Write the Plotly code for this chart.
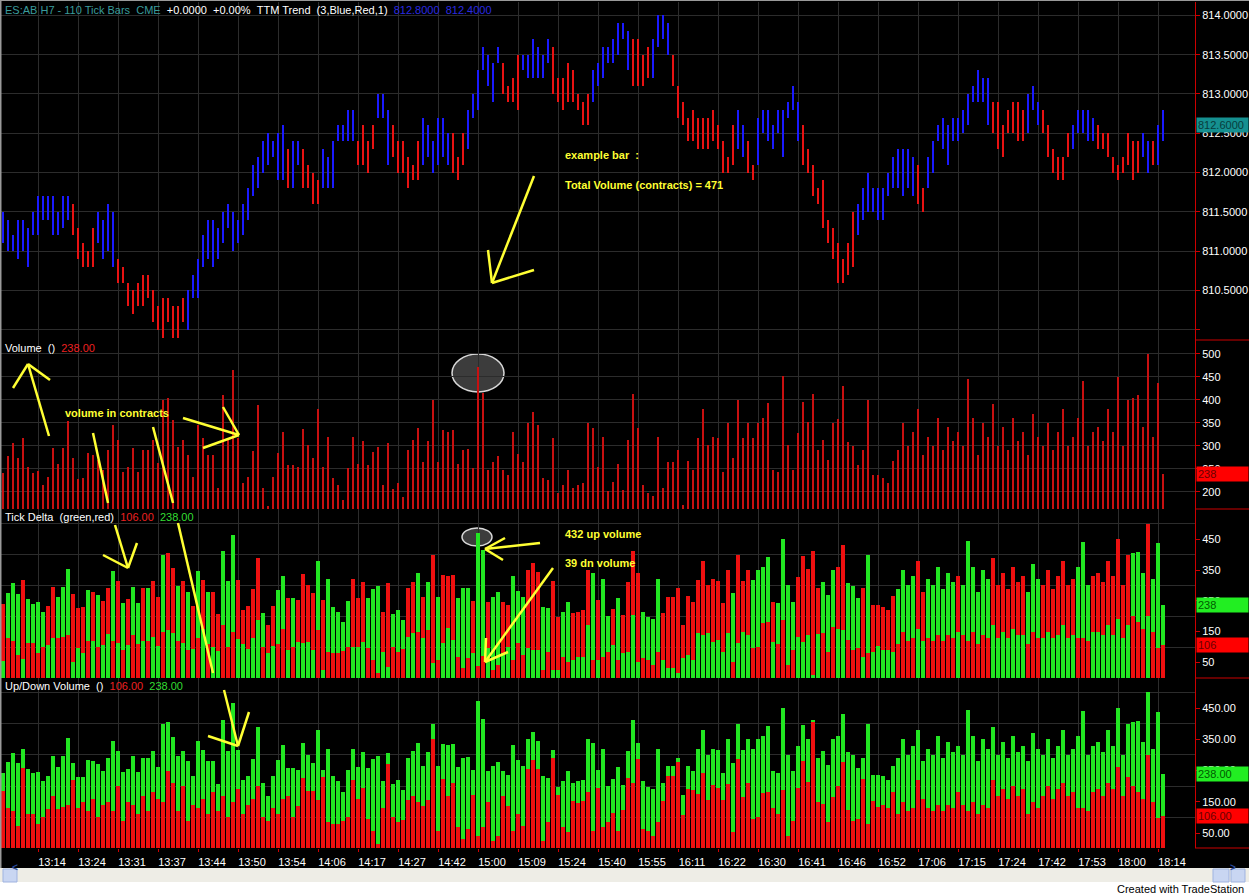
import plotly.graph_objects as go

# ---------------- data ----------------
time_labels = ["13:14", "13:24", "13:31", "13:37", "13:44", "13:50", "13:54", "14:06",
               "14:17", "14:27", "14:42", "15:00", "15:09", "15:24", "15:40", "15:55",
               "16:11", "16:22", "16:30", "16:41", "16:46", "16:52", "17:06", "17:15",
               "17:24", "17:42", "17:53", "18:00", "18:14"]

price_high = [
    811.5, 811.4, 811.2, 811.4, 811.4, 811.3, 811.5, 811.7, 811.7, 811.7,
    811.7, 811.5, 811.7, 811.7, 811.6, 811.3, 811.1, 811.0, 811.3, 811.5,
    811.4, 811.6, 811.5, 810.9, 810.8, 810.6, 810.5, 810.6, 810.7, 810.7,
    810.5, 810.3, 810.4, 810.4, 810.3, 810.3, 810.4, 810.5, 810.7, 810.9,
    811.2, 811.4, 811.4, 811.3, 811.5, 811.6, 811.5, 811.4, 811.6, 811.8,
    812.1, 812.2, 812.4, 812.5, 812.4, 812.5, 812.6, 812.3, 812.4, 812.4,
    812.3, 812.1, 812.0, 811.9, 812.3, 812.2, 812.4, 812.6, 812.6, 812.8,
    812.8, 812.4, 812.6, 812.4, 812.6, 813.0, 813.0, 812.8, 812.6, 812.4,
    812.4, 812.2, 812.1, 812.4, 812.7, 812.6, 812.4, 812.7, 812.7, 812.5,
    812.5, 812.2, 812.5, 812.8, 813.0, 813.3, 813.6, 813.5, 813.4, 813.6,
    813.4, 813.1, 813.2, 813.5, 813.5, 813.5, 813.7, 813.6, 813.5, 813.7,
    813.6, 813.2, 813.2, 813.4, 813.3, 813.0, 812.9, 813.0, 813.3, 813.4,
    813.6, 813.6, 813.7, 813.9, 813.9, 813.8, 813.7, 813.7, 813.5, 813.6,
    813.7, 814.0, 814.0, 813.9, 813.5, 813.1, 812.9, 812.7, 812.8, 812.7,
    812.7, 812.7, 812.8, 812.6, 812.4, 812.2, 812.6, 812.8, 812.6, 812.4,
    812.1, 812.7, 812.8, 812.8, 812.6, 812.8, 812.8, 812.9, 813.1, 812.9,
    812.6, 812.3, 812.1, 811.8, 811.9, 811.4, 811.3, 811.1, 810.9, 811.1,
    811.5, 811.6, 811.8, 812.0, 811.8, 811.8, 811.8, 812.0, 812.2, 812.3,
    812.3, 812.3, 812.2, 812.1, 811.8, 812.2, 812.4, 812.6, 812.7, 812.6,
    812.7, 812.7, 812.8, 813.0, 813.1, 813.3, 813.2, 813.2, 812.9, 812.9,
    812.6, 812.8, 812.9, 812.9, 812.8, 813.0, 813.1, 812.9, 812.8, 812.6,
    812.3, 812.2, 812.2, 812.5, 812.6, 812.8, 812.8, 812.8, 812.7, 812.6,
    812.5, 812.5, 812.2, 812.1, 812.2, 812.5, 812.4, 812.4, 812.5, 812.4,
    812.4, 812.6, 812.8]

price_low = [
    811.1, 811.0, 811.0, 810.9, 811.0, 810.8, 811.2, 811.2, 811.4, 811.4,
    811.2, 811.2, 811.3, 811.4, 811.2, 810.9, 810.8, 810.8, 810.8, 811.1,
    810.9, 811.0, 810.8, 810.6, 810.6, 810.3, 810.2, 810.3, 810.3, 810.4,
    810.1, 810.0, 809.9, 810.1, 809.9, 809.9, 810.1, 810.0, 810.4, 810.4,
    810.8, 810.9, 810.8, 810.9, 811.1, 811.3, 811.0, 811.1, 811.2, 811.4,
    811.7, 811.8, 812.0, 812.1, 812.2, 811.9, 811.9, 811.8, 811.8, 812.1,
    811.8, 811.8, 811.6, 811.6, 811.8, 811.8, 811.8, 812.4, 812.4, 812.4,
    812.4, 812.1, 812.1, 812.0, 812.3, 812.7, 812.7, 812.1, 812.2, 812.0,
    812.0, 811.8, 811.9, 811.9, 812.1, 812.2, 812.0, 812.1, 812.2, 812.1,
    812.0, 811.9, 812.1, 812.3, 812.7, 812.8, 813.3, 813.1, 812.9, 813.4,
    813.0, 812.9, 812.9, 812.8, 813.3, 813.2, 813.2, 813.2, 813.2, 813.4,
    813.0, 812.9, 812.8, 812.9, 812.9, 812.8, 812.6, 812.6, 812.9, 813.1,
    813.2, 813.4, 813.4, 813.5, 813.7, 813.3, 813.1, 813.1, 813.1, 813.2,
    813.2, 813.6, 813.7, 813.5, 813.1, 812.7, 812.6, 812.4, 812.4, 812.3,
    812.3, 812.3, 812.4, 812.3, 812.0, 812.0, 812.1, 812.3, 812.2, 812.0,
    811.9, 812.1, 812.5, 812.4, 812.3, 812.5, 812.2, 812.7, 812.8, 812.4,
    812.1, 812.0, 811.7, 811.6, 811.3, 811.1, 810.9, 810.6, 810.6, 810.7,
    810.8, 811.2, 811.4, 811.5, 811.5, 811.4, 811.4, 811.7, 811.8, 811.8,
    811.7, 811.8, 811.7, 811.6, 811.5, 811.8, 812.0, 812.4, 812.3, 812.1,
    812.4, 812.4, 812.5, 812.6, 812.9, 812.9, 812.9, 812.6, 812.5, 812.3,
    812.2, 812.5, 812.5, 812.4, 812.4, 812.5, 812.8, 812.6, 812.5, 812.2,
    812.0, 811.9, 811.9, 812.2, 812.3, 812.5, 812.5, 812.4, 812.4, 812.3,
    812.3, 812.2, 812.0, 811.9, 812.0, 812.1, 811.9, 812.0, 812.2, 812.0,
    812.1, 812.1, 812.4]

# TTM trend colour of each bar: B = blue (up trend), R = red (down trend)
trend = "".join([
    "BBBBBBBBBBBBBB", "RRRRR", "BBBB", "RRRRRRRRRRRRRR", "BBBBBBBBBBBBBBBBBBBB",
    "R", "BB", "RRRR", "BBBBBBB", "RRRR", "BBB", "RRRRRR", "BBBBBB", "RRR",
    "BBBBBBB", "RRRR", "BBBBBB", "RRRRRRRR", "BBBBBBBB", "RRRR", "BBBB",
    "RRRRRRRRRRRRR", "BB", "RR", "BBBBBBBBB", "RRRRRRRRRRR", "BBBBBBBBBBBB",
    "RR", "BBBBBBBBBBBBB", "RRRRRRR", "BBB", "RRRRRR", "BBBBB", "RRRRRRRRR",
    "BB", "R", "BB"])

volume = [
    241, 277, 307, 273, 318, 255, 241, 246, 215, 233,
    295, 261, 295, 353, 273, 228, 230, 284, 280, 270,
    248, 291, 346, 313, 244, 255, 295, 244, 291, 291,
    313, 262, 400, 404, 357, 298, 313, 280, 233, 346,
    317, 280, 280, 208, 411, 313, 465, 317, 219, 233,
    288, 389, 209, 170, 233, 285, 331, 259, 259,
    253, 337, 301, 274, 381, 253, 320, 231, 215, 182,
    251, 320, 260, 310, 258, 287, 298, 215, 307, 207,
    220, 188, 291, 312, 339, 264, 310, 399, 264, 334,
    331, 334, 260, 291, 293, 251, 471, 414, 247, 264,
    278, 247, 236, 331, 283, 264, 350, 374, 345, 231,
    226, 316, 198, 215, 247, 209, 215, 220, 350, 339,
    253, 320, 201, 222, 260, 204, 312, 413, 339, 215,
    198, 190, 320, 209, 264, 264, 291, 171, 266, 247,
    318, 381, 301, 320, 316, 242, 350, 274, 399, 316,
    350, 318, 350, 361, 394, 247, 242, 451, 301, 247,
    328, 396, 352, 413, 291, 312, 269, 350, 359, 431,
    309, 299, 258, 291, 399, 236, 236, 231, 220, 266,
    290, 350, 300, 330, 380, 280, 320, 300, 360, 290, 340, 310,
    330, 300, 445, 360, 280, 350, 320, 390, 300, 340, 290, 360, 310, 330, 280, 370, 320, 300, 350, 290,
    330, 380, 300, 320, 360, 440, 300, 330, 340, 310, 380, 330, 450, 300, 400, 405, 410, 340, 500, 320, 437, 238]

down_volume = [
    185, 130, 119, 74, 258, 112, 112, 79, 100, 127,
    167, 128, 134, 139, 221, 130, 150, 120, 160, 100,
    140, 150, 120, 200, 90, 150, 140, 110, 170, 120,
    180, 160, 150, 250, 210, 120, 200, 90, 140, 130,
    160, 110, 180, 120, 170, 100, 150, 190, 110, 140,
    160, 200, 100, 90, 130, 110, 160, 170, 100,
    136, 225, 184, 184, 155, 228, 85, 79, 79, 88,
    101, 219, 159, 193, 96, 58, 14, 130, 271, 101,
    85, 92, 157, 168, 150, 136, 155, 352, 58, 222,
    170, 211, 69, 31, 63, 172, 39, 70, 150, 25,
    41, 168, 136, 58, 112, 74, 254, 284, 255, 25,
    85, 291, 173, 69, 52, 151, 146, 151, 180, 58,
    195, 69, 85, 115, 58, 125, 227, 209, 287, 63,
    58, 41, 85, 151, 233, 233, 277, 108, 192, 189,
    174, 242, 157, 203, 193, 157, 206, 52, 287, 166,
    211, 96, 101, 179, 182, 130, 110, 188, 41, 90,
    194, 279, 213, 404, 150, 144, 85, 166, 199, 276,
    123, 90, 96, 222, 79, 151, 133, 141, 130, 181,
    110, 150, 120, 130, 220, 160, 130, 120, 140, 120, 140, 130,
    180, 140, 120, 150, 110, 140, 130, 220, 170, 190, 160, 200, 170, 190, 110, 150, 130, 170, 200, 160,
    190, 210, 170, 180, 130, 130, 120, 180, 190, 170, 210, 190, 260, 170, 230, 200, 180, 160, 300, 150, 98, 106]

last_close = 812.6

N = len(price_high)
assert len(price_low) == N and len(trend) == N and len(volume) == N and len(down_volume) == N
idx = list(range(N))
up_volume = [v - d for v, d in zip(volume, down_volume)]

# ---------------- style ----------------
BLUE = "#1a1aff"
PRED = "#e81212"
GREEN = "#22e622"
RED = "#ee1010"
VRED = "#c81010"
GRID = "#2c2c2c"
AXR = "#cc0000"
YEL = "#ffff33"
FONT = "Arial, Liberation Sans, sans-serif"

W, H = 1249, 896
ML, MR, MT, MB = 0, 54, 2, 48
PW, PH = W - ML - MR, H - MT - MB


def fx(p):
    return (p - ML) / PW


def fy(p):
    return (H - MB - p) / PH


fig = go.Figure()

# ---------------- price bars ----------------
for code, col in (("B", BLUE), ("R", PRED)):
    sel = [i for i in idx if trend[i] == code]
    fig.add_trace(go.Bar(
        x=sel, y=[round(price_high[i] - price_low[i], 2) for i in sel],
        base=[price_low[i] for i in sel], width=0.42,
        marker=dict(color=col, line=dict(width=0)),
        xaxis="x", yaxis="y", showlegend=False, hoverinfo="skip"))

# ---------------- volume lines ----------------
fig.add_trace(go.Bar(x=idx, y=volume, width=0.22,
                     marker=dict(color=VRED, line=dict(width=0)),
                     xaxis="x2", yaxis="y2", showlegend=False))

# ---------------- tick delta ----------------
tall_col = [GREEN if u >= d else RED for u, d in zip(up_volume, down_volume)]
short_val = [min(u, d) for u, d in zip(up_volume, down_volume)]
short_col = [RED if u >= d else GREEN for u, d in zip(up_volume, down_volume)]
fig.add_trace(go.Bar(x=idx, y=volume, width=0.8,
                     marker=dict(color=tall_col, line=dict(width=0)),
                     xaxis="x3", yaxis="y3", showlegend=False))
fig.add_trace(go.Bar(x=idx, y=short_val, width=0.8,
                     marker=dict(color=short_col, line=dict(width=0)),
                     xaxis="x3", yaxis="y3", showlegend=False))

# ---------------- up / down volume ----------------
fig.add_trace(go.Bar(x=idx, y=down_volume, width=0.8,
                     marker=dict(color=RED, line=dict(width=0)),
                     xaxis="x4", yaxis="y4", showlegend=False))
fig.add_trace(go.Bar(x=idx, y=up_volume, base=down_volume, width=0.8,
                     marker=dict(color=GREEN, line=dict(width=0)),
                     xaxis="x4", yaxis="y4", showlegend=False))

# ---------------- axes ----------------
tick_pos = list(range(7, N, 8))
xr = [-0.6, 238.4]
xbase = dict(range=xr, showgrid=True, gridcolor=GRID, gridwidth=1, zeroline=False,
             showline=False, tickvals=tick_pos, ticktext=time_labels, fixedrange=True)
yfont = dict(color="white", size=11, family=FONT)
ybase = dict(side="right", showline=True, linecolor=AXR, linewidth=1, ticks="outside",
             ticklen=4, tickcolor=AXR, tickfont=yfont, zeroline=False, gridcolor=GRID,
             gridwidth=1, automargin=False, fixedrange=True)

price_ticks = [810.0, 810.5, 811.0, 811.5, 812.0, 812.5, 813.0, 813.5, 814.0]
vol_ticks = [200, 250, 300, 350, 400, 450, 500]
delta_ticks = [50, 150, 250, 350, 450]
delta_grid = [100, 200, 300, 400, 500]

fig.update_layout(
    width=W, height=H, margin=dict(l=ML, r=MR, t=MT, b=MB),
    paper_bgcolor="black", plot_bgcolor="black", barmode="overlay", bargap=0,
    font=dict(family=FONT, size=11, color="white"), showlegend=False,
    xaxis=dict(**xbase, anchor="y", showticklabels=False, ticks=""),
    xaxis2=dict(**xbase, anchor="y2", matches="x", showticklabels=False, ticks=""),
    xaxis3=dict(**xbase, anchor="y3", matches="x", showticklabels=False, ticks=""),
    xaxis4=dict(**xbase, anchor="y4", matches="x", showticklabels=True, ticks="outside",
                ticklen=3, tickcolor=AXR, ticklabelshift=14, ticklabelstandoff=1,
                automargin=False, tickfont=dict(color="white", size=11, family=FONT)),
    yaxis=dict(**ybase, anchor="x", domain=[fy(340), 1], range=[809.87, 814.17],
               tickvals=price_ticks,
               ticktext=["" if v == 810.0 else "%.4f" % v for v in price_ticks]),
    yaxis2=dict(**ybase, anchor="x2", domain=[fy(509), fy(340)], range=[162.6, 530],
                tickvals=vol_ticks, ticktext=[str(v) for v in vol_ticks]),
    yaxis3=dict(**ybase, anchor="x3", domain=[fy(678), fy(509)], range=[-0.7, 548.5],
                tickvals=delta_ticks, ticktext=[str(v) for v in delta_ticks], showgrid=False,
                minor=dict(tickvals=delta_grid, showgrid=True, gridcolor=GRID, ticks="")),
    yaxis4=dict(**ybase, anchor="x4", domain=[0, fy(678)], range=[2, 546],
                tickvals=delta_ticks, ticktext=["%.2f" % v for v in delta_ticks], showgrid=False,
                minor=dict(tickvals=delta_grid, showgrid=True, gridcolor=GRID, ticks="")),
)

shapes = []
annots = []

# panel separators on the price scale area
for yy in (340, 509, 678, 848):
    shapes.append(dict(type="line", xref="paper", yref="paper", x0=fx(1195), x1=fx(1249),
                       y0=fy(yy), y1=fy(yy), line=dict(color=AXR, width=1)))
# left / top window border
shapes.append(dict(type="line", xref="paper", yref="paper", x0=fx(0.5), x1=fx(0.5),
                   y0=fy(868), y1=fy(0), line=dict(color="#9a9a9a", width=2)))
shapes.append(dict(type="line", xref="paper", yref="paper", x0=0, x1=fx(1249),
                   y0=fy(0.5), y1=fy(0.5), line=dict(color="#9a9a9a", width=1)))

# bottom window chrome
shapes.append(dict(type="rect", xref="paper", yref="paper", x0=fx(0), x1=fx(1249),
                   y0=fy(896), y1=fy(868), fillcolor="#eeede6", line=dict(width=0), layer="above"))
shapes.append(dict(type="rect", xref="paper", yref="paper", x0=fx(0), x1=fx(1249),
                   y0=fy(896), y1=fy(882), fillcolor="#ffffff", line=dict(width=0), layer="above"))
for (a, b) in ((3, 17), (1213, 1229), (1231, 1245)):
    shapes.append(dict(type="rect", xref="paper", yref="paper", x0=fx(a), x1=fx(b),
                       y0=fy(882), y1=fy(869), fillcolor="#c9d6f2",
                       line=dict(color="#9fb3e0", width=1), layer="above"))
annots.append(dict(xref="paper", yref="paper", x=fx(10), y=fy(875.5), text="<b>&lt;</b>",
                   showarrow=False, font=dict(color="#2a4a9a", size=10)))
annots.append(dict(xref="paper", yref="paper", x=fx(1238), y=fy(875.5), text="<b>&gt;</b>",
                   showarrow=False, font=dict(color="#2a4a9a", size=10)))
annots.append(dict(xref="paper", yref="paper", x=fx(1246), y=fy(889), xanchor="right",
                   yanchor="middle", text="Created with TradeStation", showarrow=False,
                   font=dict(color="black", size=11)))

# panel headers
head_price = ("<span style='color:#3a9c9c'>ES:AB H7 - 110 Tick Bars&nbsp;&nbsp;CME</span>"
              "&nbsp;&nbsp;<span style='color:white'>+0.0000&nbsp;&nbsp;+0.00%&nbsp;&nbsp;"
              "TTM Trend&nbsp;&nbsp;(3,Blue,Red,1)</span>&nbsp;&nbsp;"
              "<span style='color:#2a2ae0'>" + "%.4f" % price_high[-1] + "&nbsp;&nbsp;"
              + "%.4f" % price_low[-1] + "</span>")
annots.append(dict(xref="paper", yref="paper", x=fx(3), y=fy(10), xanchor="left", yanchor="middle",
                   showarrow=False, font=dict(size=11), text=head_price))
annots.append(dict(xref="paper", yref="paper", x=fx(3), y=fy(348), xanchor="left", yanchor="middle",
                   showarrow=False, font=dict(size=11),
                   text="Volume&nbsp;&nbsp;()&nbsp;&nbsp;<span style='color:#ee2020'>"
                        + "%.2f" % volume[-1] + "</span>"))
annots.append(dict(xref="paper", yref="paper", x=fx(3), y=fy(517), xanchor="left", yanchor="middle",
                   showarrow=False, font=dict(size=11),
                   text=("Tick Delta&nbsp;&nbsp;(green,red)&nbsp;&nbsp;"
                         "<span style='color:#ee2020'>" + "%.2f" % down_volume[-1] + "</span>&nbsp;&nbsp;"
                         "<span style='color:#33dd33'>" + "%.2f" % volume[-1] + "</span>")))
annots.append(dict(xref="paper", yref="paper", x=fx(3), y=fy(686), xanchor="left", yanchor="middle",
                   showarrow=False, font=dict(size=11),
                   text=("Up/Down Volume&nbsp;&nbsp;()&nbsp;&nbsp;"
                         "<span style='color:#ee2020'>" + "%.2f" % down_volume[-1] + "</span>&nbsp;&nbsp;"
                         "<span style='color:#33dd33'>" + "%.2f" % volume[-1] + "</span>")))


# last-value markers on the price scales
def marker(yref, yv, txt, bg, fg):
    annots.append(dict(xref="paper", yref=yref, x=fx(1196), y=yv, xanchor="left",
                       yanchor="middle", text=txt, showarrow=False, bgcolor=bg,
                       width=49, align="left", borderpad=1,
                       font=dict(color=fg, size=11)))


marker("y", last_close, "%.4f" % last_close, "#159090", "#083c3c")
marker("y2", volume[-1], "%d" % volume[-1], "#ff0000", "#6a0000")
marker("y3", volume[-1], "%d" % volume[-1], "#22ee22", "#005a00")
marker("y3", down_volume[-1], "%d" % down_volume[-1], "#ff0000", "#6a0000")
marker("y4", volume[-1], "%.2f" % volume[-1], "#22ee22", "#005a00")
marker("y4", down_volume[-1], "%.2f" % down_volume[-1], "#ff0000", "#6a0000")

# ---------------- hand-drawn yellow notes ----------------
segments = [
    ((534, 176), (492, 283)), ((492, 283), (488, 250)), ((492, 283), (534, 270)),
    ((28, 364), (49, 436)), ((28, 364), (13, 388)), ((28, 364), (50, 380)),
    ((93, 433), (108, 503)), ((153, 427), (173, 503)),
    ((239, 435), (183, 418)), ((239, 435), (223, 407)), ((239, 435), (203, 448)),
    ((115, 525), (128, 568)), ((128, 568), (137, 543)), ((128, 568), (103, 555)),
    ((178, 523), (213, 673)),
    ((224, 690), (238, 746)), ((238, 746), (208, 736)), ((238, 746), (249, 712)),
    ((540, 543), (485, 549)), ((485, 549), (505, 538)), ((485, 549), (503, 560)),
    ((553, 568), (485, 662)), ((485, 662), (486, 638)), ((485, 662), (508, 652)),
]
for (a, b) in segments:
    shapes.append(dict(type="line", xref="paper", yref="paper", x0=fx(a[0]), y0=fy(a[1]),
                       x1=fx(b[0]), y1=fy(b[1]), line=dict(color=YEL, width=2.5), layer="above"))

for (cx, cy, rx, ry) in ((478, 373, 26, 19), (477, 537, 15, 9)):
    shapes.append(dict(type="circle", xref="paper", yref="paper", x0=fx(cx - rx), x1=fx(cx + rx),
                       y0=fy(cy + ry), y1=fy(cy - ry), fillcolor="#3c3c3c",
                       line=dict(color="#d8d8d8", width=1.5), layer="below"))

for (tx, ty, t) in ((563, 155, "example bar  :"), (563, 185, "Total Volume (contracts) = 471"),
                    (63, 413, "volume in contracts"), (563, 534, "432 up volume"),
                    (563, 563, "39 dn volume")):
    annots.append(dict(xref="paper", yref="paper", x=fx(tx), y=fy(ty), xanchor="left",
                       yanchor="middle", showarrow=False,
                       text="<b>" + t.replace("  ", "&nbsp;&nbsp;") + "</b>",
                       font=dict(color=YEL, size=11)))

fig.update_layout(shapes=shapes, annotations=annots)
fig.write_html("out.html", config={"displayModeBar": False, "staticPlot": True},
               post_script="document.body.style.margin='0px';document.body.style.padding='0px';")
